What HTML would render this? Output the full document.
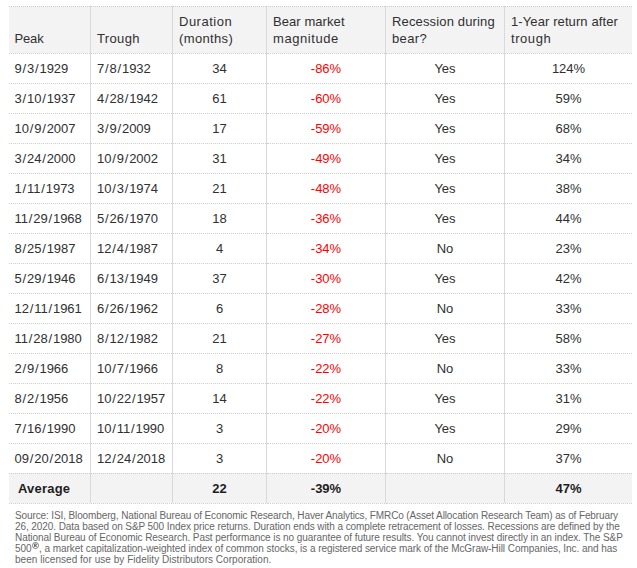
<!DOCTYPE html><html><head><meta charset="utf-8"><style>
html,body{margin:0;padding:0;background:#fff;}
body{width:637px;height:568px;position:relative;overflow:hidden;font-family:"Liberation Sans",sans-serif;}
.bg{position:absolute;background:#f3f3f3;}
.h{position:absolute;height:0;border-top:1px dotted #cdcdcd;}
.v{position:absolute;width:1px;background:#d9d9d9;}
.c{position:absolute;height:30px;line-height:30px;font-size:13.0px;color:#303030;white-space:nowrap;letter-spacing:0px;}
.l{text-align:left;}
.m{text-align:center;}
.r{color:#ff0000;}
.b{font-weight:bold;color:#1e1e1e;}
.hd{position:absolute;font-size:13.0px;color:#303030;white-space:nowrap;line-height:17.5px;letter-spacing:0px;}
.ft{position:absolute;left:15px;top:510px;width:620px;font-size:10px;line-height:11.0px;color:#666;white-space:nowrap;letter-spacing:0px;}
.rg{position:relative;top:-3px;margin-left:0.5px;margin-right:0px;vertical-align:baseline;}
.s{margin:0 0.8px;}
</style></head><body>

<div class="bg" style="left:9px;top:6px;width:623px;height:47px"></div>
<div class="bg" style="left:9px;top:473px;width:623px;height:30px"></div>
<div class="v" style="left:90px;top:7px;height:496px"></div>
<div class="v" style="left:172px;top:7px;height:496px"></div>
<div class="v" style="left:266px;top:7px;height:496px"></div>
<div class="v" style="left:385px;top:7px;height:496px"></div>
<div class="v" style="left:504px;top:7px;height:496px"></div>
<div class="h" style="left:9px;top:6px;width:81px"></div>
<div class="h" style="left:90px;top:6px;width:82px"></div>
<div class="h" style="left:172px;top:6px;width:94px"></div>
<div class="h" style="left:266px;top:6px;width:119px"></div>
<div class="h" style="left:385px;top:6px;width:119px"></div>
<div class="h" style="left:504px;top:6px;width:128px"></div>
<div class="h" style="left:9px;top:53px;width:81px"></div>
<div class="h" style="left:91px;top:53px;width:81px"></div>
<div class="h" style="left:173px;top:53px;width:93px"></div>
<div class="h" style="left:267px;top:53px;width:118px"></div>
<div class="h" style="left:386px;top:53px;width:118px"></div>
<div class="h" style="left:505px;top:53px;width:127px"></div>
<div class="h" style="left:9px;top:83px;width:81px"></div>
<div class="h" style="left:91px;top:83px;width:81px"></div>
<div class="h" style="left:173px;top:83px;width:93px"></div>
<div class="h" style="left:267px;top:83px;width:118px"></div>
<div class="h" style="left:386px;top:83px;width:118px"></div>
<div class="h" style="left:505px;top:83px;width:127px"></div>
<div class="h" style="left:9px;top:113px;width:81px"></div>
<div class="h" style="left:91px;top:113px;width:81px"></div>
<div class="h" style="left:173px;top:113px;width:93px"></div>
<div class="h" style="left:267px;top:113px;width:118px"></div>
<div class="h" style="left:386px;top:113px;width:118px"></div>
<div class="h" style="left:505px;top:113px;width:127px"></div>
<div class="h" style="left:9px;top:143px;width:81px"></div>
<div class="h" style="left:91px;top:143px;width:81px"></div>
<div class="h" style="left:173px;top:143px;width:93px"></div>
<div class="h" style="left:267px;top:143px;width:118px"></div>
<div class="h" style="left:386px;top:143px;width:118px"></div>
<div class="h" style="left:505px;top:143px;width:127px"></div>
<div class="h" style="left:9px;top:173px;width:81px"></div>
<div class="h" style="left:91px;top:173px;width:81px"></div>
<div class="h" style="left:173px;top:173px;width:93px"></div>
<div class="h" style="left:267px;top:173px;width:118px"></div>
<div class="h" style="left:386px;top:173px;width:118px"></div>
<div class="h" style="left:505px;top:173px;width:127px"></div>
<div class="h" style="left:9px;top:203px;width:81px"></div>
<div class="h" style="left:91px;top:203px;width:81px"></div>
<div class="h" style="left:173px;top:203px;width:93px"></div>
<div class="h" style="left:267px;top:203px;width:118px"></div>
<div class="h" style="left:386px;top:203px;width:118px"></div>
<div class="h" style="left:505px;top:203px;width:127px"></div>
<div class="h" style="left:9px;top:233px;width:81px"></div>
<div class="h" style="left:91px;top:233px;width:81px"></div>
<div class="h" style="left:173px;top:233px;width:93px"></div>
<div class="h" style="left:267px;top:233px;width:118px"></div>
<div class="h" style="left:386px;top:233px;width:118px"></div>
<div class="h" style="left:505px;top:233px;width:127px"></div>
<div class="h" style="left:9px;top:263px;width:81px"></div>
<div class="h" style="left:91px;top:263px;width:81px"></div>
<div class="h" style="left:173px;top:263px;width:93px"></div>
<div class="h" style="left:267px;top:263px;width:118px"></div>
<div class="h" style="left:386px;top:263px;width:118px"></div>
<div class="h" style="left:505px;top:263px;width:127px"></div>
<div class="h" style="left:9px;top:293px;width:81px"></div>
<div class="h" style="left:91px;top:293px;width:81px"></div>
<div class="h" style="left:173px;top:293px;width:93px"></div>
<div class="h" style="left:267px;top:293px;width:118px"></div>
<div class="h" style="left:386px;top:293px;width:118px"></div>
<div class="h" style="left:505px;top:293px;width:127px"></div>
<div class="h" style="left:9px;top:323px;width:81px"></div>
<div class="h" style="left:91px;top:323px;width:81px"></div>
<div class="h" style="left:173px;top:323px;width:93px"></div>
<div class="h" style="left:267px;top:323px;width:118px"></div>
<div class="h" style="left:386px;top:323px;width:118px"></div>
<div class="h" style="left:505px;top:323px;width:127px"></div>
<div class="h" style="left:9px;top:353px;width:81px"></div>
<div class="h" style="left:91px;top:353px;width:81px"></div>
<div class="h" style="left:173px;top:353px;width:93px"></div>
<div class="h" style="left:267px;top:353px;width:118px"></div>
<div class="h" style="left:386px;top:353px;width:118px"></div>
<div class="h" style="left:505px;top:353px;width:127px"></div>
<div class="h" style="left:9px;top:383px;width:81px"></div>
<div class="h" style="left:91px;top:383px;width:81px"></div>
<div class="h" style="left:173px;top:383px;width:93px"></div>
<div class="h" style="left:267px;top:383px;width:118px"></div>
<div class="h" style="left:386px;top:383px;width:118px"></div>
<div class="h" style="left:505px;top:383px;width:127px"></div>
<div class="h" style="left:9px;top:413px;width:81px"></div>
<div class="h" style="left:91px;top:413px;width:81px"></div>
<div class="h" style="left:173px;top:413px;width:93px"></div>
<div class="h" style="left:267px;top:413px;width:118px"></div>
<div class="h" style="left:386px;top:413px;width:118px"></div>
<div class="h" style="left:505px;top:413px;width:127px"></div>
<div class="h" style="left:9px;top:443px;width:81px"></div>
<div class="h" style="left:91px;top:443px;width:81px"></div>
<div class="h" style="left:173px;top:443px;width:93px"></div>
<div class="h" style="left:267px;top:443px;width:118px"></div>
<div class="h" style="left:386px;top:443px;width:118px"></div>
<div class="h" style="left:505px;top:443px;width:127px"></div>
<div class="h" style="left:9px;top:473px;width:81px"></div>
<div class="h" style="left:91px;top:473px;width:81px"></div>
<div class="h" style="left:173px;top:473px;width:93px"></div>
<div class="h" style="left:267px;top:473px;width:118px"></div>
<div class="h" style="left:386px;top:473px;width:118px"></div>
<div class="h" style="left:505px;top:473px;width:127px"></div>
<div class="h" style="left:9px;top:503px;width:81px"></div>
<div class="h" style="left:91px;top:503px;width:81px"></div>
<div class="h" style="left:173px;top:503px;width:93px"></div>
<div class="h" style="left:267px;top:503px;width:118px"></div>
<div class="h" style="left:386px;top:503px;width:118px"></div>
<div class="h" style="left:505px;top:503px;width:127px"></div>
<div class="hd" style="left:14.5px;top:30.0px;letter-spacing:-0.15px">Peak</div>
<div class="hd" style="left:97px;top:30.0px;letter-spacing:0.36px">Trough</div>
<div class="hd" style="left:179px;top:12.5px;letter-spacing:0.5px">Duration</div>
<div class="hd" style="left:179px;top:30.0px;letter-spacing:0.36px">(months)</div>
<div class="hd" style="left:273px;top:12.5px;letter-spacing:0.07px">Bear market</div>
<div class="hd" style="left:273px;top:30.0px;letter-spacing:0.56px">magnitude</div>
<div class="hd" style="left:392px;top:12.5px;letter-spacing:0.15px">Recession during</div>
<div class="hd" style="left:392px;top:30.0px;letter-spacing:0.37px">bear?</div>
<div class="hd" style="left:511px;top:12.5px;letter-spacing:0.1px">1-Year return after</div>
<div class="hd" style="left:511px;top:30.0px;letter-spacing:0.56px">trough</div>
<div class="c l" style="left:14.5px;top:53.5px;width:75.5px">9<span class="s">/</span>3<span class="s">/</span>1929</div>
<div class="c l" style="left:97px;top:53.5px;width:75px">7<span class="s">/</span>8<span class="s">/</span>1932</div>
<div class="c m" style="left:173px;top:53.5px;width:93px">34</div>
<div class="c m r" style="left:267px;top:53.5px;width:118px">-86%</div>
<div class="c m" style="left:386px;top:53.5px;width:118px">Yes</div>
<div class="c m" style="left:505px;top:53.5px;width:127px">124%</div>
<div class="c l" style="left:14.5px;top:83.5px;width:75.5px">3<span class="s">/</span>10<span class="s">/</span>1937</div>
<div class="c l" style="left:97px;top:83.5px;width:75px">4<span class="s">/</span>28<span class="s">/</span>1942</div>
<div class="c m" style="left:173px;top:83.5px;width:93px">61</div>
<div class="c m r" style="left:267px;top:83.5px;width:118px">-60%</div>
<div class="c m" style="left:386px;top:83.5px;width:118px">Yes</div>
<div class="c m" style="left:505px;top:83.5px;width:127px">59%</div>
<div class="c l" style="left:14.5px;top:113.5px;width:75.5px">10<span class="s">/</span>9<span class="s">/</span>2007</div>
<div class="c l" style="left:97px;top:113.5px;width:75px">3<span class="s">/</span>9<span class="s">/</span>2009</div>
<div class="c m" style="left:173px;top:113.5px;width:93px">17</div>
<div class="c m r" style="left:267px;top:113.5px;width:118px">-59%</div>
<div class="c m" style="left:386px;top:113.5px;width:118px">Yes</div>
<div class="c m" style="left:505px;top:113.5px;width:127px">68%</div>
<div class="c l" style="left:14.5px;top:143.5px;width:75.5px">3<span class="s">/</span>24<span class="s">/</span>2000</div>
<div class="c l" style="left:97px;top:143.5px;width:75px">10<span class="s">/</span>9<span class="s">/</span>2002</div>
<div class="c m" style="left:173px;top:143.5px;width:93px">31</div>
<div class="c m r" style="left:267px;top:143.5px;width:118px">-49%</div>
<div class="c m" style="left:386px;top:143.5px;width:118px">Yes</div>
<div class="c m" style="left:505px;top:143.5px;width:127px">34%</div>
<div class="c l" style="left:14.5px;top:173.5px;width:75.5px">1<span class="s">/</span>11<span class="s">/</span>1973</div>
<div class="c l" style="left:97px;top:173.5px;width:75px">10<span class="s">/</span>3<span class="s">/</span>1974</div>
<div class="c m" style="left:173px;top:173.5px;width:93px">21</div>
<div class="c m r" style="left:267px;top:173.5px;width:118px">-48%</div>
<div class="c m" style="left:386px;top:173.5px;width:118px">Yes</div>
<div class="c m" style="left:505px;top:173.5px;width:127px">38%</div>
<div class="c l" style="left:14.5px;top:203.5px;width:75.5px">11<span class="s">/</span>29<span class="s">/</span>1968</div>
<div class="c l" style="left:97px;top:203.5px;width:75px">5<span class="s">/</span>26<span class="s">/</span>1970</div>
<div class="c m" style="left:173px;top:203.5px;width:93px">18</div>
<div class="c m r" style="left:267px;top:203.5px;width:118px">-36%</div>
<div class="c m" style="left:386px;top:203.5px;width:118px">Yes</div>
<div class="c m" style="left:505px;top:203.5px;width:127px">44%</div>
<div class="c l" style="left:14.5px;top:233.5px;width:75.5px">8<span class="s">/</span>25<span class="s">/</span>1987</div>
<div class="c l" style="left:97px;top:233.5px;width:75px">12<span class="s">/</span>4<span class="s">/</span>1987</div>
<div class="c m" style="left:173px;top:233.5px;width:93px">4</div>
<div class="c m r" style="left:267px;top:233.5px;width:118px">-34%</div>
<div class="c m" style="left:386px;top:233.5px;width:118px">No</div>
<div class="c m" style="left:505px;top:233.5px;width:127px">23%</div>
<div class="c l" style="left:14.5px;top:263.5px;width:75.5px">5<span class="s">/</span>29<span class="s">/</span>1946</div>
<div class="c l" style="left:97px;top:263.5px;width:75px">6<span class="s">/</span>13<span class="s">/</span>1949</div>
<div class="c m" style="left:173px;top:263.5px;width:93px">37</div>
<div class="c m r" style="left:267px;top:263.5px;width:118px">-30%</div>
<div class="c m" style="left:386px;top:263.5px;width:118px">Yes</div>
<div class="c m" style="left:505px;top:263.5px;width:127px">42%</div>
<div class="c l" style="left:14.5px;top:293.5px;width:75.5px">12<span class="s">/</span>11<span class="s">/</span>1961</div>
<div class="c l" style="left:97px;top:293.5px;width:75px">6<span class="s">/</span>26<span class="s">/</span>1962</div>
<div class="c m" style="left:173px;top:293.5px;width:93px">6</div>
<div class="c m r" style="left:267px;top:293.5px;width:118px">-28%</div>
<div class="c m" style="left:386px;top:293.5px;width:118px">No</div>
<div class="c m" style="left:505px;top:293.5px;width:127px">33%</div>
<div class="c l" style="left:14.5px;top:323.5px;width:75.5px">11<span class="s">/</span>28<span class="s">/</span>1980</div>
<div class="c l" style="left:97px;top:323.5px;width:75px">8<span class="s">/</span>12<span class="s">/</span>1982</div>
<div class="c m" style="left:173px;top:323.5px;width:93px">21</div>
<div class="c m r" style="left:267px;top:323.5px;width:118px">-27%</div>
<div class="c m" style="left:386px;top:323.5px;width:118px">Yes</div>
<div class="c m" style="left:505px;top:323.5px;width:127px">58%</div>
<div class="c l" style="left:14.5px;top:353.5px;width:75.5px">2<span class="s">/</span>9<span class="s">/</span>1966</div>
<div class="c l" style="left:97px;top:353.5px;width:75px">10<span class="s">/</span>7<span class="s">/</span>1966</div>
<div class="c m" style="left:173px;top:353.5px;width:93px">8</div>
<div class="c m r" style="left:267px;top:353.5px;width:118px">-22%</div>
<div class="c m" style="left:386px;top:353.5px;width:118px">No</div>
<div class="c m" style="left:505px;top:353.5px;width:127px">33%</div>
<div class="c l" style="left:14.5px;top:383.5px;width:75.5px">8<span class="s">/</span>2<span class="s">/</span>1956</div>
<div class="c l" style="left:97px;top:383.5px;width:75px">10<span class="s">/</span>22<span class="s">/</span>1957</div>
<div class="c m" style="left:173px;top:383.5px;width:93px">14</div>
<div class="c m r" style="left:267px;top:383.5px;width:118px">-22%</div>
<div class="c m" style="left:386px;top:383.5px;width:118px">Yes</div>
<div class="c m" style="left:505px;top:383.5px;width:127px">31%</div>
<div class="c l" style="left:14.5px;top:413.5px;width:75.5px">7<span class="s">/</span>16<span class="s">/</span>1990</div>
<div class="c l" style="left:97px;top:413.5px;width:75px">10<span class="s">/</span>11<span class="s">/</span>1990</div>
<div class="c m" style="left:173px;top:413.5px;width:93px">3</div>
<div class="c m r" style="left:267px;top:413.5px;width:118px">-20%</div>
<div class="c m" style="left:386px;top:413.5px;width:118px">Yes</div>
<div class="c m" style="left:505px;top:413.5px;width:127px">29%</div>
<div class="c l" style="left:14.5px;top:443.5px;width:75.5px">09<span class="s">/</span>20<span class="s">/</span>2018</div>
<div class="c l" style="left:97px;top:443.5px;width:75px">12<span class="s">/</span>24<span class="s">/</span>2018</div>
<div class="c m" style="left:173px;top:443.5px;width:93px">3</div>
<div class="c m r" style="left:267px;top:443.5px;width:118px">-20%</div>
<div class="c m" style="left:386px;top:443.5px;width:118px">No</div>
<div class="c m" style="left:505px;top:443.5px;width:127px">37%</div>
<div class="c l b" style="left:18px;top:473.5px;width:72px"><span style="letter-spacing:0.2px">Average</span></div>
<div class="c m b" style="left:173px;top:473.5px;width:93px">22</div>
<div class="c m b" style="left:267px;top:473.5px;width:118px">-39%</div>
<div class="c m b" style="left:505px;top:473.5px;width:127px">47%</div>
<div class="ft" style="top:510.0px;letter-spacing:-0.117px">Source: ISI, Bloomberg, National Bureau of Economic Research, Haver Analytics, FMRCo (Asset Allocation Research Team) as of February</div>
<div class="ft" style="top:521.0px;letter-spacing:-0.082px">26, 2020. Data based on S&amp;P 500 Index price returns. Duration ends with a complete retracement of losses. Recessions are defined by the</div>
<div class="ft" style="top:532.0px;letter-spacing:-0.074px">National Bureau of Economic Research. Past performance is no guarantee of future results. You cannot invest directly in an index. The S&amp;P</div>
<div class="ft" style="top:543.0px;letter-spacing:-0.05px">500<svg class="rg" width="7" height="7" viewBox="0 0 7 7"><circle cx="3.5" cy="3.5" r="3" fill="none" stroke="#555" stroke-width="0.75"/><path d="M2.7 5V2h1a0.75 0.75 0 0 1 0 1.5H2.7M3.6 3.5L4.4 5" fill="none" stroke="#333" stroke-width="0.75"/></svg>, a market capitalization-weighted index of common stocks, is a registered service mark of the McGraw-Hill Companies, Inc. and has</div>
<div class="ft" style="top:554.0px;letter-spacing:0.04px">been licensed for use by Fidelity Distributors Corporation.</div>
</body></html>
